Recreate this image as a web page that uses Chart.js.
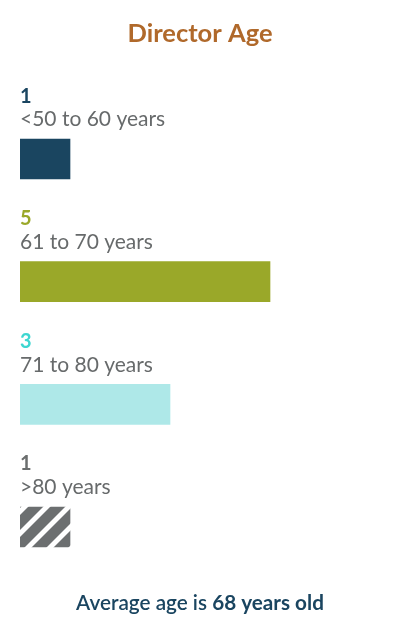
<!DOCTYPE html>
<html>
<head>
<meta charset="utf-8">
<script src="https://cdn.jsdelivr.net/npm/chart.js@4"></script>
<style>
  html, body { margin: 0; padding: 0; background: #ffffff; }
  #wrap { position: relative; width: 400px; height: 640px; }
  canvas { display: block; }
</style>
</head>
<body>
<div id="wrap"><canvas id="c" width="400" height="640"></canvas></div>
<script>
// ---- data ----
const categories = ['<50 to 60 years', '61 to 70 years', '71 to 80 years', '>80 years'];
const counts = [1, 5, 3, 1];
const titleText = 'Director Age';
const footerLead = 'Average age is ';
const footerValue = '68 years old';

// ---- styles ----
const valueColors = ['#1a4560', '#9aa829', '#3dd6d0', '#6b6e6e'];
const labelColor = '#676a6b';

function stripePattern() {
  const p = 22;
  const t = document.createElement('canvas');
  t.width = p; t.height = p;
  const g = t.getContext('2d');
  g.fillStyle = '#ffffff';
  g.fillRect(0, 0, p, p);
  g.fillStyle = '#6c6f70';
  g.beginPath();
  g.moveTo(7, 0); g.lineTo(22, 0); g.lineTo(0, 22); g.lineTo(0, 7); g.closePath();
  g.fill();
  g.beginPath();
  g.moveTo(22, 7); g.lineTo(22, 22); g.lineTo(7, 22); g.closePath();
  g.fill();
  return document.getElementById('c').getContext('2d').createPattern(t, 'repeat');
}

const barColors = ['#1a4560', '#9aa829', '#aee8e8', stripePattern()];

const labelPlugin = {
  id: 'labels',
  afterDatasetsDraw(chart) {
    const ctx = chart.ctx;
    const meta = chart.getDatasetMeta(0);
    const left = chart.chartArea.left;
    ctx.save();
    ctx.textAlign = 'left';
    ctx.textBaseline = 'alphabetic';
    meta.data.forEach((bar, i) => {
      const top = bar.y - bar.height / 2;
      ctx.font = 'bold 20px Lato';
      ctx.fillStyle = valueColors[i];
      ctx.fillText(String(counts[i]), left, top - 36.5);
      ctx.font = '21px Lato';
      ctx.fillStyle = labelColor;
      ctx.fillText(categories[i], left, top - 12.8);
    });
    // title
    ctx.textAlign = 'center';
    ctx.font = 'bold 25.5px Lato';
    ctx.fillStyle = '#b0692b';
    ctx.fillText(titleText, chart.width / 2, 42);
    // footer
    ctx.textAlign = 'left';
    ctx.font = '600 20.7px Lato';
    const w1 = ctx.measureText(footerLead).width;
    ctx.font = 'bold 20.7px Lato';
    const w2 = ctx.measureText(footerValue).width;
    const x0 = chart.width / 2 - (w1 + w2) / 2;
    ctx.fillStyle = '#1a4560';
    ctx.font = '600 20.7px Lato';
    ctx.fillText(footerLead, x0, 610);
    ctx.font = 'bold 20.7px Lato';
    ctx.fillText(footerValue, x0 + w1, 610);
    ctx.restore();
  }
};

new Chart(document.getElementById('c'), {
  type: 'bar',
  data: {
    labels: categories,
    datasets: [{
      data: counts,
      backgroundColor: barColors,
      borderWidth: 0,
      barThickness: 40
    }]
  },
  options: {
    indexAxis: 'y',
    responsive: false,
    animation: false,
    devicePixelRatio: 1,
    layout: { padding: { top: 97.67, bottom: 51.67, left: 20, right: 20 } },
    scales: {
      x: { display: false, min: 0, max: 7.2 },
      y: { display: false }
    },
    plugins: {
      legend: { display: false },
      tooltip: { enabled: false },
      title: { display: false }
    }
  },
  plugins: [labelPlugin]
});
</script>
</body>
</html>
